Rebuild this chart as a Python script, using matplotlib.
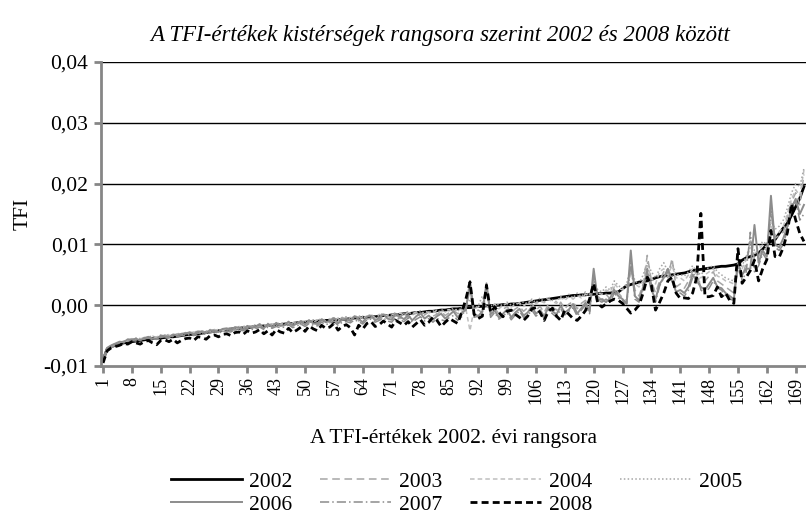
import matplotlib
matplotlib.use("Agg")
import matplotlib.pyplot as plt
import numpy as np

plt.rcParams['font.family'] = ['Liberation Serif', 'DejaVu Serif']

# TFI values in units of 1e-4, ranks 1..171 (2002 ranking)
tfi_2002 = [
    -90, -72, -68, -66, -64, -62, -61, -60, -59, -58,
    -57, -56, -55, -54, -54, -53, -52, -52, -51, -50,
    -49, -48, -48, -47, -46, -45, -44, -43, -42, -41,
    -40, -39, -39, -38, -37, -37, -36, -35, -35, -34,
    -33, -33, -32, -32, -31, -30, -30, -29, -28, -28,
    -27, -27, -26, -26, -25, -25, -24, -24, -23, -23,
    -22, -21, -21, -20, -20, -19, -19, -18, -17, -17,
    -16, -16, -15, -14, -14, -13, -12, -12, -11, -10,
    -10, -9, -8, -8, -7, -6, -6, -5, -4, -4,
    -3, -2, -2, -1, -1, 0, 0, 1, 1, 2,
    2, 3, 4, 5, 6, 7, 8, 9, 10, 11,
    12, 13, 14, 15, 16, 16, 17, 17, 18, 18,
    19, 19, 20, 20, 21, 22, 27, 32, 34, 36,
    38, 39, 40, 42, 45, 47, 48, 49, 50, 51,
    52, 53, 55, 57, 58, 59, 60, 61, 62, 63,
    64, 64, 65, 66, 68, 74, 78, 80, 82, 86,
    92, 100, 105, 108, 118, 127, 135, 148, 162, 176, 195,
]
tfi_2003 = [
    -90, -73, -67, -62, -62, -59, -58, -55, -57, -56,
    -53, -55, -51, -53, -52, -49, -51, -50, -47, -49,
    -48, -44, -46, -46, -42, -45, -43, -40, -43, -42,
    -39, -38, -41, -35, -38, -36, -33, -38, -34, -32,
    -35, -30, -33, -31, -28, -33, -29, -27, -32, -26,
    -29, -24, -28, -27, -22, -29, -23, -26, -20, -25,
    -24, -20, -26, -18, -23, -21, -16, -24, -19, -18,
    -21, -15, -22, -13, -20, -18, -12, -19, -16, -11,
    -18, -15, -10, -17, -12, -8, -14, -10, -4, 25,
    -12, -8, -12, 28, -10, -5, -14, -7, -2, -12,
    -6, -2, -10, -4, 3, -8, -2, -12, 2, -3,
    -8, 5, -6, 2, 6, -6, 3, 8, -2, 45,
    15, 8, 18, 10, 30, 20, 12, 8, 60, 25,
    15, 35, 82, 40, 20, 40, 55, 45, 77, 30,
    35, 28, 40, 55, 45, 35, 40, 48, 55, 40,
    35, 30, 25, 20, 60, 45, 70, 110, 75, 80,
    95, 90, 150, 110, 115, 120, 145, 170, 185, 165, 215,
]
tfi_2004 = [
    -91, -74, -69, -64, -61, -60, -59, -56, -56, -55,
    -55, -53, -53, -52, -50, -50, -49, -51, -48, -47,
    -47, -46, -44, -45, -44, -42, -43, -41, -40, -42,
    -38, -40, -37, -38, -36, -35, -36, -33, -36, -32,
    -33, -32, -30, -33, -29, -30, -28, -31, -27, -28,
    -26, -28, -24, -26, -25, -22, -26, -21, -23, -22,
    -20, -22, -19, -21, -18, -17, -20, -15, -18, -16,
    -15, -17, -13, -16, -12, -14, -11, -15, -10, -12,
    -13, -8, -11, -9, -7, -12, -5, -8, -6, -42,
    -5, -3, 5, -2, -4, 2, -6, 0, 3, -3,
    1, 4, -2, 5, 8, 2, 7, 4, 10, 6,
    3, 12, 8, 14, 10, 16, 12, 18, 15, 35,
    20, 18, 25, 22, 35, 28, 25, 30, 55, 35,
    30, 40, 65, 45, 35, 55, 60, 50, 65, 45,
    45, 40, 50, 60, 50, 45, 50, 55, 60, 48,
    45, 40, 38, 35, 55, 60, 75, 95, 85, 90,
    100, 95, 130, 115, 120, 130, 150, 175, 190, 180, 222,
]
tfi_2005 = [
    -89, -71, -67, -65, -62, -59, -58, -58, -54, -55,
    -56, -52, -51, -54, -49, -50, -48, -50, -46, -49,
    -45, -47, -45, -42, -46, -43, -40, -44, -41, -39,
    -41, -37, -38, -40, -34, -37, -35, -32, -37, -33,
    -30, -34, -31, -29, -32, -28, -31, -26, -30, -27,
    -24, -27, -25, -22, -27, -24, -20, -25, -21, -19,
    -23, -19, -17, -22, -18, -15, -21, -17, -13, -19,
    -16, -12, -18, -14, -10, -16, -13, -9, -14, -12,
    -9, -14, -7, -11, -9, -5, -10, -4, -2, 10,
    -6, -1, 15, -4, 0, -3, 2, -1, 5, 0,
    4, 0, 6, 2, 10, 4, 12, 5, 14, 8,
    6, 15, 10, 18, 12, 20, 14, 22, 16, 40,
    25, 22, 30, 25, 40, 32, 28, 35, 65, 40,
    35, 50, 70, 55, 45, 60, 70, 55, 70, 50,
    50, 48, 55, 65, 55, 50, 58, 62, 65, 55,
    50, 45, 42, 40, 60, 65, 80, 100, 90, 95,
    105, 100, 140, 125, 130, 140, 160, 185, 200, 195, 225,
]
tfi_2006 = [
    -88, -70, -66, -63, -60, -61, -56, -57, -55, -58,
    -54, -52, -55, -56, -50, -51, -53, -48, -50, -47,
    -46, -45, -48, -43, -44, -46, -41, -42, -44, -39,
    -38, -41, -36, -37, -40, -34, -37, -35, -31, -38,
    -31, -36, -29, -34, -33, -27, -34, -30, -26, -32,
    -25, -30, -31, -23, -28, -26, -21, -30, -24, -22,
    -26, -18, -23, -28, -19, -17, -25, -21, -15, -22,
    -24, -14, -19, -23, -16, -25, -18, -13, -22, -17,
    -24, -18, -14, -22, -16, -10, -20, -12, -8, 40,
    -14, -18, -10, 36, -15, -9, -20, -14, -7, -20,
    -12, -6, -17, -12, -2, -14, -8, -18, -4, -10,
    -15, -1, -12, -7, 2, -14, -5, 4, -10, 60,
    8, 10, 5, 12, 25, 15, 10, 3, 90, 15,
    8, 30, 55, 25, 10, 35, 45, 60, 40, 22,
    25, 20, 30, 50, 40, 30, 25, 35, 45, 30,
    28, 20, 15, 10, 70, 50, 60, 60, 132, 70,
    90, 80, 180, 100, 95, 110, 130, 160, 175, 150, 165,
]
tfi_2007 = [
    -92, -76, -70, -66, -63, -62, -60, -58, -59, -57,
    -56, -54, -57, -55, -53, -52, -54, -51, -52, -50,
    -50, -48, -50, -46, -47, -48, -45, -44, -46, -43,
    -43, -44, -40, -41, -42, -38, -40, -39, -36, -40,
    -36, -38, -35, -37, -36, -32, -37, -34, -31, -35,
    -30, -33, -34, -28, -32, -30, -27, -33, -28, -27,
    -29, -24, -27, -31, -24, -23, -28, -25, -21, -26,
    -28, -20, -24, -27, -21, -28, -23, -19, -26, -22,
    -28, -22, -24, -26, -20, -17, -25, -19, -5, 30,
    -20, -18, -15, 30, -20, -12, -23, -18, -12, -24,
    -16, -10, -20, -17, -8, -18, -12, -22, -8, -14,
    -20, -6, -16, -10, -4, -18, -8, 0, -14, 50,
    8, 5, 10, 5, 20, 12, 8, 2, 70, 10,
    5, 25, 60, 35, 5, 32, 45, 55, 50, 20,
    20, 15, 25, 45, 60, 25, 20, 28, 40, 28,
    25, 15, 10, 8, 80, 40, 55, 120, 55, 65,
    85, 75, 160, 95, 90, 100, 125, 165, 170, 140, 150,
]
tfi_2008 = [
    -95, -75, -70, -68, -66, -63, -64, -60, -62, -64,
    -60, -58, -62, -65, -58, -57, -60, -56, -62, -58,
    -55, -54, -58, -52, -53, -56, -50, -49, -52, -48,
    -47, -50, -45, -44, -48, -42, -46, -44, -40, -47,
    -42, -49, -40, -44, -46, -38, -45, -41, -36, -43,
    -34, -39, -42, -33, -38, -36, -30, -41, -35, -32,
    -37, -49, -33, -39, -30, -27, -35, -32, -26, -31,
    -36, -25, -29, -33, -27, -36, -30, -24, -33, -28,
    -20, -25, -35, -28, -22, -26, -30, -12, 10, 38,
    -15, -22, -18, 33, -12, -3, -12, -19, -10, -8,
    -15, -20, -25, -18, -6, -4, -12, -25, -10, -5,
    -18, -25, -8, -15, -22, -25, -18, -9, 10, 36,
    3, -3, 2, 7, 10, 8, 3, -5, -13, -8,
    0, 20, 46, 33, -8, 5, 20, 40, 46, 20,
    11, 12, 11, 20, 46, 151, 14, 14, 16, 30,
    14, 20, 8, 3, 93, 36, 46, 57, 74, 40,
    60, 75, 123, 80, 79, 95, 120, 167, 140, 118, 105,
]

years = ['2002', '2003', '2004', '2005', '2006', '2007', '2008']
series = [tfi_2002, tfi_2003, tfi_2004, tfi_2005, tfi_2006, tfi_2007, tfi_2008]
styles = [
    dict(color='black', lw=2.0, ls='-'),
    dict(color='#a6a6a6', lw=1.1, ls=(0, (5, 3))),
    dict(color='#bfbfbf', lw=1.1, ls=(0, (3, 2))),
    dict(color='#a6a6a6', lw=1.1, ls=(0, (1, 1.5))),
    dict(color='#8c8c8c', lw=1.4, ls='-'),
    dict(color='#8c8c8c', lw=1.1, ls=(0, (6, 2, 1, 2))),
    dict(color='black', lw=2.0, ls=(0, (2.5, 1.5))),
]

ranks = np.arange(1, 172)

fig = plt.figure(figsize=(8.06, 5.16), dpi=100)
ax = fig.add_axes([0.1253, 0.2907, 0.8747, 0.5891])

lines = {}
for yr, vals, st in zip(years, series, styles):
    lines[yr], = ax.plot(ranks, np.array(vals) / 10000, label=yr, **st)

ax.set_xlim(0.5, 171.5)
ax.set_ylim(-0.01, 0.04)
yt = [-0.01, 0.0, 0.01, 0.02, 0.03, 0.04]
ax.set_yticks(yt)
ax.set_yticklabels([f"{v:.2f}".replace('.', ',') for v in yt], fontsize=15.5)
for v in yt[1:]:
    ax.axhline(v, color='black', lw=1.0, zorder=0)

xt = ranks[::7]
ax.set_xticks(xt)
ax.set_xticklabels([str(v) for v in xt], rotation=90, fontsize=13)

for s in ['top', 'right']:
    ax.spines[s].set_visible(False)
for s in ['left', 'bottom']:
    ax.spines[s].set_color('#868686')
    ax.spines[s].set_linewidth(2)
ax.tick_params(axis='both', colors='#868686', width=2, length=5, labelcolor='black')
ax.tick_params(axis='y', pad=4)
ax.tick_params(axis='x', pad=3)

ax.set_ylabel('TFI', fontsize=15.5, labelpad=8)
ax.set_xlabel('A TFI-értékek 2002. évi rangsora', fontsize=15.5, labelpad=18)
fig.text(0.546, 0.932, 'A TFI-értékek kistérségek rangsora szerint 2002 és 2008 között',
         ha='center', va='center', fontsize=16.5, style='italic')

# column-major order so rows read 2002-2005 / 2006-2008
order = ['2002', '2006', '2003', '2007', '2004', '2008', '2005']
fig.legend([lines[y] for y in order], order, loc='lower center',
           bbox_to_anchor=(0.566, -0.027), ncol=4, frameon=False,
           fontsize=15.5, handlelength=3.3, handletextpad=0.35, columnspacing=1.3,
           labelspacing=0.15, borderpad=0.2)

fig.savefig('out.png', dpi=100)
